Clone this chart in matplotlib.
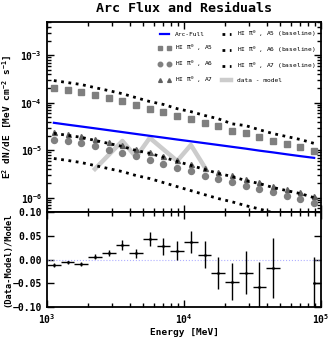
import numpy as np
import matplotlib
matplotlib.use("Agg")
import matplotlib.pyplot as plt

plt.rcParams['font.family'] = ['DejaVu Sans Mono']
plt.rcParams['mathtext.default'] = 'regular'

# ---- data ----
logE = [3.05, 3.15, 3.25, 3.35, 3.45, 3.55, 3.65, 3.75, 3.85, 3.95,
        4.05, 4.15, 4.25, 4.35, 4.45, 4.55, 4.65, 4.75, 4.85, 4.95]
energy = [10 ** v for v in logE]

arc_full = [3.78e-5, 3.45e-5, 3.16e-5, 2.89e-5, 2.64e-5, 2.41e-5, 2.20e-5, 2.01e-5, 1.84e-5, 1.68e-5,
            1.54e-5, 1.41e-5, 1.29e-5, 1.18e-5, 1.08e-5, 9.8e-6, 9.0e-6, 8.2e-6, 7.5e-6, 6.9e-6]
hi_a5 = [2.07e-4, 1.88e-4, 1.71e-4, 1.47e-4, 1.27e-4, 1.10e-4, 9.1e-5, 7.5e-5, 6.5e-5, 5.3e-5,
         4.6e-5, 3.8e-5, 3.28e-5, 2.58e-5, 2.34e-5, 1.92e-5, 1.58e-5, 1.37e-5, 1.19e-5, 9.8e-6]
hi_a6 = [1.65e-5, 1.57e-5, 1.43e-5, 1.23e-5, 1.01e-5, 8.8e-6, 7.6e-6, 6.2e-6, 5.1e-6, 4.2e-6,
         3.65e-6, 2.86e-6, 2.47e-6, 2.14e-6, 1.76e-6, 1.52e-6, 1.31e-6, 1.08e-6, 9.3e-7, 7.7e-7]
hi_a7 = [2.44e-5, 2.21e-5, 2.01e-5, 1.73e-5, 1.50e-5, 1.29e-5, 1.06e-5, 9.2e-6, 7.6e-6, 6.2e-6,
         5.1e-6, 4.2e-6, 3.5e-6, 3.0e-6, 2.47e-6, 2.14e-6, 1.76e-6, 1.52e-6, 1.31e-6, 1.08e-6]
base_a5 = [2.93e-4, 2.66e-4, 2.42e-4, 2.08e-4, 1.80e-4, 1.55e-4, 1.28e-4, 1.06e-4, 9.2e-5, 7.5e-5,
           6.5e-5, 5.4e-5, 4.6e-5, 3.6e-5, 3.3e-5, 2.7e-5, 2.24e-5, 1.94e-5, 1.68e-5, 1.39e-5]
base_a6 = [2.27e-5, 2.06e-5, 1.87e-5, 1.61e-5, 1.39e-5, 1.20e-5, 9.9e-6, 8.6e-6, 7.1e-6, 5.8e-6,
           4.8e-6, 3.95e-6, 3.25e-6, 2.80e-6, 2.30e-6, 1.99e-6, 1.64e-6, 1.41e-6, 1.22e-6, 1.00e-6]
base_a7 = [6.7e-6, 6.1e-6, 5.5e-6, 4.75e-6, 4.1e-6, 3.55e-6, 2.93e-6, 2.53e-6, 2.08e-6, 1.71e-6,
           1.41e-6, 1.16e-6, 9.6e-7, 8.2e-7, 6.8e-7, 5.8e-7, 4.8e-7, 4.2e-7, 3.6e-7, 3.0e-7]

resid_logE = [3.05, 3.15, 3.25, 3.35, 3.45, 3.55, 3.65, 3.75, 3.85, 3.95,
              4.05, 4.15, 4.25, 4.35, 4.45, 4.55, 4.65, 4.95]
resid = [-0.011, -0.006, -0.009, 0.006, 0.013, 0.031, 0.013, 0.043, 0.028, 0.018,
         0.037, 0.010, -0.028, -0.047, -0.028, -0.057, -0.018, -0.050]
resid_err = [0.004, 0.003, 0.004, 0.005, 0.006, 0.010, 0.010, 0.015, 0.018, 0.020,
             0.024, 0.028, 0.034, 0.039, 0.045, 0.052, 0.064, 0.056]

dm_logE = [3.35, 3.55, 3.65, 3.75, 3.95, 4.05, 4.15]
dm_vals = [4.03e-6, 1.57e-5, 7.2e-6, 1.82e-5, 5.94e-6, 1.29e-5, 4.44e-6]

# ---- figure ----
fig = plt.figure(figsize=(3.32, 3.45), dpi=100)
ax1 = fig.add_axes([0.1416, 0.3855, 0.8254, 0.5505])
ax2 = fig.add_axes([0.1416, 0.110, 0.8254, 0.2755], sharex=ax1)

fs_tick = 7
for ax in (ax1, ax2):
    for s in ax.spines.values():
        s.set_linewidth(1.3)
    ax.tick_params(which='both', direction='in', top=True, right=True, width=1.0,
                   labelsize=fs_tick)
    ax.tick_params(which='major', length=5)
    ax.tick_params(which='minor', length=3)

ax1.set_xscale('log')
ax1.set_yscale('log')

h_arc, = ax1.plot(energy, arc_full, color='blue', lw=1.6, label='Arc-Full')
h_a5, = ax1.plot(energy, hi_a5, ls='none', marker='s', ms=4, color='#7f7f7f',
                 label='HI π$^0$ , A5')
h_a6, = ax1.plot(energy, hi_a6, ls='none', marker='o', ms=4.3, color='#808080',
                 label='HI π$^0$ , A6')
h_a7, = ax1.plot(energy, hi_a7, ls='none', marker='^', ms=3.6, color='#606060',
                 label='HI π$^0$ , A7')
h_b5, = ax1.plot(energy, base_a5, ls=':', lw=2, color='black', label='HI π$^0$ , A5 (baseline)')
h_b6, = ax1.plot(energy, base_a6, ls=':', lw=2, color='black', label='HI π$^0$ , A6 (baseline)')
h_b7, = ax1.plot(energy, base_a7, ls=':', lw=2, color='black', label='HI π$^0$ , A7 (baseline)')
h_dm, = ax1.plot([10 ** v for v in dm_logE], dm_vals, color='#cccccc', lw=3.2,
                 label='data - model', zorder=1)

ax1.set_xlim(1e3, 1e5)
ax1.set_ylim(5e-7, 5e-3)
ax1.set_ylabel('E$^2$ dN/dE [MeV cm$^{-2}$ s$^{-1}$]', fontsize=6.8, fontweight='bold')
ax1.set_title('Arc Flux and Residuals', fontsize=9.6, fontweight='bold', pad=7)
plt.setp(ax1.get_xticklabels(), visible=False)

leg = ax1.legend(handles=[h_arc, h_a5, h_a6, h_a7, h_b5, h_b6, h_b7, h_dm], ncol=2,
                 loc='upper right', frameon=False, fontsize=4.5, numpoints=2,
                 markerscale=0.75, handlelength=2.0, handletextpad=0.6,
                 columnspacing=1.2, labelspacing=0.95,
                 bbox_to_anchor=(1.0, 0.995))

# residual panel
rE = [10 ** v for v in resid_logE]
xlo = [10 ** v - 10 ** (v - 0.05) for v in resid_logE]
xhi = [10 ** (v + 0.05) - 10 ** v for v in resid_logE]
xlo[-1] = 0.0
ax2.axhline(0.0, color='#b0b0ff', ls=':', lw=0.8)
ax2.errorbar(rE, resid, yerr=resid_err, xerr=[xlo, xhi], fmt='.', ms=2,
             color='black', ecolor='black', elinewidth=1.0, capsize=0)
ax2.set_ylim(-0.10, 0.10)
ax2.set_yticks([-0.10, -0.05, 0.0, 0.05, 0.10])
ax2.set_yticklabels(['−0.10', '−0.05', '0.00', '0.05', '0.10'])
ax2.set_xlim(1e3, 1e5)
ax2.set_xlabel('Energy [MeV]', fontsize=6.8, fontweight='bold', labelpad=2)
ax2.set_ylabel('(Data-Model)/Model', fontsize=6.2, fontweight='bold')
for lab in ax2.get_xticklabels() + ax2.get_yticklabels() + ax1.get_yticklabels():
    lab.set_fontweight('bold')

ax1.yaxis.set_label_coords(-0.125, 0.5)
ax2.yaxis.set_label_coords(-0.125, 0.5)
fig.savefig('out.png', dpi=100)
